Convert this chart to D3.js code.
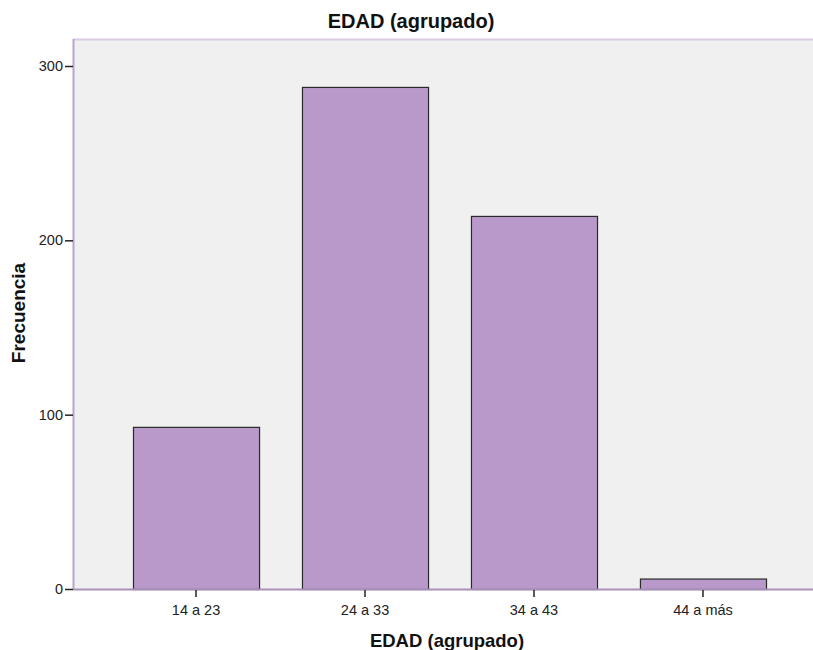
<!DOCTYPE html>
<html>
<head>
<meta charset="utf-8">
<script src="https://cdn.jsdelivr.net/npm/d3@7"></script>
<style>
  body { margin: 0; background: #fff; }
  svg { display: block; }
</style>
</head>
<body>
<div id="chart"></div>
<script>
// Frequency bar chart, age groups
const categories = ["14 a 23", "24 a 33", "34 a 43", "44 a más"];
const counts     = [93, 288, 214, 6];
const yTicks     = [0, 100, 200, 300];

const W = 813, H = 650;
const plot = { left: 73, right: 813, top: 39, bottom: 589 };
const font = "Arial, 'Liberation Sans', sans-serif";

const svg = d3.select("#chart").append("svg")
  .attr("width", W).attr("height", H);

const x = d3.scaleBand()
  .domain(categories)
  .range([plot.left, 826])
  .paddingInner(0.254)
  .paddingOuter(0.355);

const y = d3.scaleLinear()
  .domain([0, 300])
  .range([plot.bottom, 66]);

// Plot background
svg.append("rect")
  .attr("x", plot.left).attr("y", plot.top)
  .attr("width", plot.right - plot.left)
  .attr("height", plot.bottom - plot.top)
  .attr("fill", "#f0f0f0");

// Top frame line
svg.append("line")
  .attr("x1", plot.left).attr("x2", plot.right)
  .attr("y1", plot.top + 0.5).attr("y2", plot.top + 0.5)
  .attr("stroke", "#d9cbe3").attr("stroke-width", 2);

// Bars
svg.append("g").selectAll("rect")
  .data(categories)
  .join("rect")
    .attr("x", d => x(d) + 0.5)
    .attr("y", (d, i) => y(counts[i]) + 0.5)
    .attr("width", x.bandwidth())
    .attr("height", (d, i) => y(0) - y(counts[i]))
    .attr("fill", "#b899c9")
    .attr("stroke", "#2a2a2a")
    .attr("stroke-width", 1.2);

// Left axis line
svg.append("line")
  .attr("x1", plot.left + 0.5).attr("x2", plot.left + 0.5)
  .attr("y1", plot.top).attr("y2", plot.bottom)
  .attr("stroke", "#b9a3c9").attr("stroke-width", 2);

// Bottom axis line
svg.append("line")
  .attr("x1", plot.left).attr("x2", plot.right)
  .attr("y1", plot.bottom + 0.5).attr("y2", plot.bottom + 0.5)
  .attr("stroke", "#a990b8").attr("stroke-width", 2);

// Y axis
const yAxis = svg.append("g")
  .attr("transform", `translate(${plot.left},0)`)
  .call(d3.axisLeft(y).tickValues(yTicks).tickSize(8).tickPadding(2));
yAxis.select(".domain").remove();
yAxis.selectAll(".tick line").attr("stroke", "#222").attr("stroke-width", 1.5);
yAxis.selectAll("text")
  .attr("fill", "#222")
  .attr("font-size", "14.5px")
  .attr("font-family", font);

// X axis
const xAxis = svg.append("g")
  .attr("transform", `translate(0,${plot.bottom + 1})`)
  .call(d3.axisBottom(x).tickSize(7));
xAxis.select(".domain").remove();
xAxis.selectAll(".tick line").attr("stroke", "#222").attr("stroke-width", 1.5);
xAxis.selectAll("text")
  .attr("y", 25).attr("dy", null)
  .attr("fill", "#222")
  .attr("font-size", "14.5px")
  .attr("font-family", font);

// Title
svg.append("text")
  .attr("x", 411).attr("y", 28)
  .attr("text-anchor", "middle")
  .attr("font-size", "20px").attr("font-weight", "bold")
  .attr("font-family", font).attr("fill", "#111")
  .text("EDAD (agrupado)");

// X axis title
svg.append("text")
  .attr("x", 447).attr("y", 647)
  .attr("text-anchor", "middle")
  .attr("font-size", "18.5px").attr("font-weight", "bold")
  .attr("font-family", font).attr("fill", "#111")
  .text("EDAD (agrupado)");

// Y axis title
svg.append("text")
  .attr("transform", "translate(25,313) rotate(-90)")
  .attr("text-anchor", "middle")
  .attr("font-size", "19px").attr("font-weight", "bold")
  .attr("font-family", font).attr("fill", "#111")
  .text("Frecuencia");
</script>
</body>
</html>
